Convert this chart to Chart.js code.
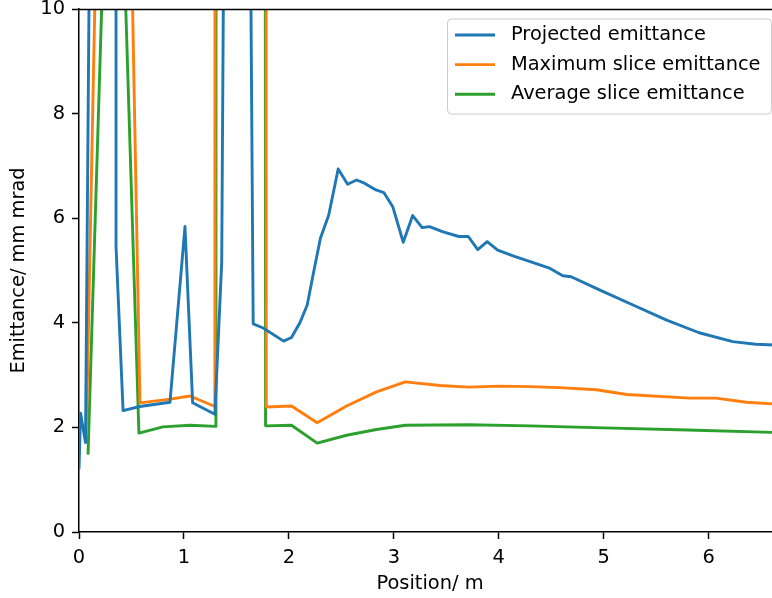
<!DOCTYPE html>
<html>
<head>
<meta charset="utf-8">
<script src="https://cdn.jsdelivr.net/npm/chart.js@4.4.1/dist/chart.umd.min.js"></script>
<style>
  html, body { margin: 0; padding: 0; background: #fff; overflow: hidden; }
  #wrap { width: 772px; height: 598px; overflow: hidden; position: relative; }
  canvas { display: block; }
</style>
</head>
<body>
<div id="wrap"><canvas id="c" width="781" height="598"></canvas></div>
<script>
// ---- data ----
const seriesLabels = ["Projected emittance", "Maximum slice emittance", "Average slice emittance"];

const projX = [0, 0.015, 0.062, 0.35, 0.353, 0.42, 0.58, 0.867, 1.01, 1.083, 1.295, 1.36, 1.5, 1.66, 1.755, 1.95, 2.025, 2.105, 2.175, 2.23, 2.30, 2.38, 2.47, 2.56, 2.645, 2.72, 2.83, 2.905, 2.99, 3.09, 3.18, 3.27, 3.34, 3.47, 3.62, 3.71, 3.80, 3.89, 3.99, 4.15, 4.30, 4.49, 4.61, 4.69, 4.96, 5.28, 5.60, 5.91, 6.23, 6.45, 6.69];
const projY = [1.2, 2.27, 1.71, 74, 5.45, 2.32, 2.40, 2.48, 5.84, 2.47, 2.25, 5.16, 50, 3.98, 3.90, 3.65, 3.72, 4.0, 4.34, 4.91, 5.61, 6.06, 6.94, 6.65, 6.73, 6.67, 6.54, 6.49, 6.22, 5.54, 6.05, 5.82, 5.84, 5.74, 5.65, 5.65, 5.40, 5.55, 5.39, 5.27, 5.17, 5.04, 4.90, 4.88, 4.63, 4.34, 4.05, 3.81, 3.64, 3.59, 3.57];

const maxX = [0.07, 0.336, 0.581, 0.87, 1.057, 1.295, 1.305, 1.775, 1.785, 2.025, 2.27, 2.55, 2.835, 3.11, 3.44, 3.71, 4.01, 4.30, 4.58, 4.93, 5.22, 5.82, 6.07, 6.36, 6.69];
const maxY = [1.9, 28.8, 2.47, 2.54, 2.60, 2.40, 100, 100, 2.39, 2.41, 2.09, 2.41, 2.68, 2.87, 2.80, 2.77, 2.79, 2.78, 2.76, 2.72, 2.63, 2.56, 2.56, 2.48, 2.44];

const avgX = [0.086, 0.33, 0.571, 0.80, 1.057, 1.305, 1.315, 1.76, 1.778, 2.025, 2.27, 2.55, 2.835, 3.11, 3.71, 4.30, 5.0, 5.8, 6.69];
const avgY = [1.48, 17.5, 1.89, 2.01, 2.04, 2.02, 100, 60, 2.03, 2.04, 1.70, 1.85, 1.96, 2.04, 2.05, 2.03, 1.99, 1.95, 1.90];

const xTicks = [0, 1, 2, 3, 4, 5, 6];
const yTicks = [0, 2, 4, 6, 8, 10];
const xTitle = "Position/ m";
const yTitle = "Emittance/ mm mrad";
const colors = ["#1f77b4", "#ff7f0e", "#2ca02c"];

const pts = (xs, ys) => xs.map((x, i) => ({ x: x, y: ys[i] }));
const FONT = "'DejaVu Sans', sans-serif";

const frameAndLegend = {
  id: 'frameAndLegend',
  afterDraw(chart) {
    const ctx = chart.ctx;
    const a = chart.chartArea;
    ctx.save();
    ctx.strokeStyle = '#000';
    ctx.lineWidth = 1.5;
    ctx.beginPath();
    ctx.moveTo(a.left, a.top + 0.5);
    ctx.lineTo(a.right, a.top + 0.5);
    ctx.moveTo(a.right - 0.5, a.top);
    ctx.lineTo(a.right - 0.5, a.bottom);
    ctx.stroke();

    // legend box (upper right)
    const bx = 447.5, by = 19, bw = 324, bh = 95, r = 4;
    ctx.beginPath();
    ctx.moveTo(bx + r, by);
    ctx.lineTo(bx + bw - r, by);
    ctx.arcTo(bx + bw, by, bx + bw, by + r, r);
    ctx.lineTo(bx + bw, by + bh - r);
    ctx.arcTo(bx + bw, by + bh, bx + bw - r, by + bh, r);
    ctx.lineTo(bx + r, by + bh);
    ctx.arcTo(bx, by + bh, bx, by + bh - r, r);
    ctx.lineTo(bx, by + r);
    ctx.arcTo(bx, by, bx + r, by, r);
    ctx.closePath();
    ctx.fillStyle = 'rgba(255,255,255,0.8)';
    ctx.fill();
    ctx.strokeStyle = '#cccccc';
    ctx.lineWidth = 1;
    ctx.stroke();

    ctx.font = "19.4px " + FONT;
    ctx.textBaseline = 'middle';
    ctx.textAlign = 'left';
    chart.data.datasets.forEach((ds, i) => {
      const yy = 35 + i * 29.6;
      ctx.strokeStyle = ds.borderColor;
      ctx.lineWidth = 2.9;
      ctx.beginPath();
      ctx.moveTo(455, yy);
      ctx.lineTo(495, yy);
      ctx.stroke();
      ctx.fillStyle = '#000';
      ctx.fillText(ds.label, 511, yy);
    });
    ctx.restore();
  }
};

new Chart(document.getElementById('c'), {
  type: 'line',
  data: {
    datasets: [
      { label: seriesLabels[0], data: pts(projX, projY), borderColor: colors[0], backgroundColor: colors[0] },
      { label: seriesLabels[1], data: pts(maxX, maxY), borderColor: colors[1], backgroundColor: colors[1] },
      { label: seriesLabels[2], data: pts(avgX, avgY), borderColor: colors[2], backgroundColor: colors[2] }
    ]
  },
  options: {
    responsive: false,
    animation: false,
    devicePixelRatio: 1,
    layout: { padding: { top: 9, right: 0, left: 0, bottom: 0 } },
    elements: {
      line: { borderWidth: 2.9, tension: 0, fill: false, borderJoinStyle: 'round', borderCapStyle: 'butt' },
      point: { radius: 0, hoverRadius: 0 }
    },
    datasets: { line: { clip: 0 } },
    plugins: { legend: { display: false }, tooltip: { enabled: false } },
    scales: {
      x: {
        type: 'linear',
        min: 0, max: 6.69,
        afterFit(s) { s.height = 66; s.paddingLeft = 0; s.paddingRight = 0; },
        afterBuildTicks(s) { s.ticks = xTicks.map(v => ({ value: v })); },
        ticks: { color: '#000', padding: 9, font: { family: FONT, size: 19.4, lineHeight: 1.0 }, maxRotation: 0, includeBounds: false },
        grid: { drawOnChartArea: false, drawTicks: true, tickLength: 7, tickWidth: 1.5, tickColor: '#000' },
        border: { display: true, color: '#000', width: 1.5 },
        title: { display: true, text: xTitle, color: '#000', font: { family: FONT, size: 19.4, lineHeight: 1.0 }, padding: { top: 0, bottom: 4 } }
      },
      y: {
        type: 'linear',
        min: 0, max: 10,
        afterFit(s) { s.width = 79; s.paddingTop = 0; s.paddingBottom = 0; },
        afterBuildTicks(s) { s.ticks = yTicks.map(v => ({ value: v })); },
        ticks: { color: '#000', padding: 7, font: { family: FONT, size: 19.4, lineHeight: 0.9 }, includeBounds: false },
        grid: { drawOnChartArea: false, drawTicks: true, tickLength: 7, tickWidth: 1.5, tickColor: '#000' },
        border: { display: true, color: '#000', width: 1.5 },
        title: { display: true, text: yTitle, color: '#000', font: { family: FONT, size: 19.4, lineHeight: 1.0 }, padding: { top: 9, bottom: 0 } }
      }
    }
  },
  plugins: [frameAndLegend]
});
</script>
</body>
</html>
